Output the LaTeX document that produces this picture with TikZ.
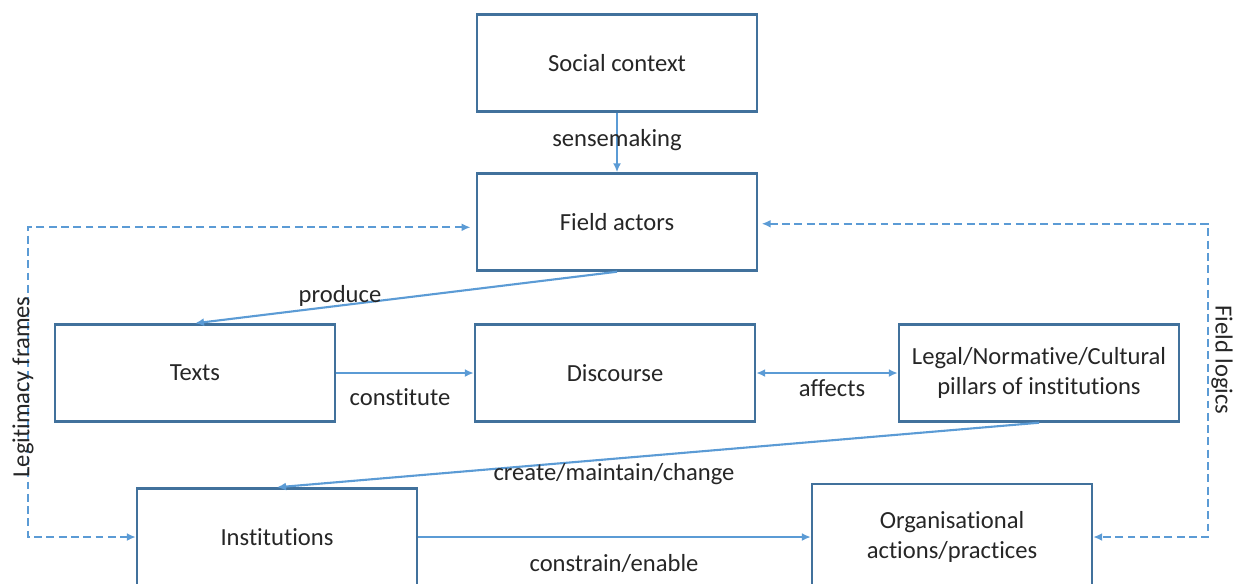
\documentclass[tikz,border=0pt]{standalone}
\usepackage{fontspec}
\setmainfont[Ligatures={NoCommon}]{Carlito}
\usepackage{tikz}
\usetikzlibrary{arrows.meta}
\definecolor{boxblue}{RGB}{65,113,156}
\definecolor{linkblue}{RGB}{91,155,213}

\begin{document}
\begin{tikzpicture}[x=0.02cm,y=-0.02cm,
		>={Latex[length=1.8mm,width=1.6mm]},
		every node/.style={font=\fontsize{14}{17.5}\selectfont, text=black!85},
		box/.style={draw=boxblue, line width=1.4pt, minimum width=5.6cm, minimum height=1.94cm, inner sep=0pt, align=center},
		link/.style={draw=linkblue, line width=1.2pt, ->},
		frame/.style={link, <->, dash pattern=on 4.5pt off 2.5pt}]
			\useasboundingbox (0,0) rectangle (1239,583);
			\clip (0,0) rectangle (1239,583);
			% boxes
			\node[box] (social) at (617,63) {Social context};
			\node[box] (field) at (617,222) {Field actors};
			\node[box] (texts) at (195,373) {Texts};
			\node[box] (discourse) at (615,373) {Discourse};
			\node[box] (pillars) at (1039,373) {Legal/Normative/Cultural\\pillars of institutions};
			\node[box] (inst) at (277,537) {Institutions};
			\node[box, minimum height=2.12cm] (orgs) at (952,537) {Organisational\\actions/practices};
			% links
			\draw[link] (social) -- (field);
			\draw[link] (field.south) -- (texts.north);
			\draw[link] (texts) -- (discourse);
			\draw[link, <->] (discourse) -- (pillars);
			\draw[link] (pillars.south) -- (inst.north);
			\draw[link] (inst) -- (orgs);
			\node (sense) at (617,140) {sensemaking};
			\node (produce) at (340,296) {produce};
			\node (constitute) at (400,397) {constitute};
			\node (affects) at (832,388) {affects};
			\node (cmc) at (614,474) {create/maintain/change};
			\node (constrain) at (614,563) {constrain/enable};
			% feedback loops
			\coordinate (lb) at (28,537);
			\coordinate (rb) at (1208,537);
			\draw[frame] ([shift={(-3pt,-3pt)}]field.west) -| (lb) -- (inst.west);
			\draw[frame] ([shift={(2pt,-1pt)}]field.east) -| (rb) -- (orgs.east);
			\node[rotate=90] (legit) at (23,387) {Legitimacy frames};
			\node[rotate=-90] (logics) at (1222,360) {Field logics};
		\end{tikzpicture}
\end{document}
